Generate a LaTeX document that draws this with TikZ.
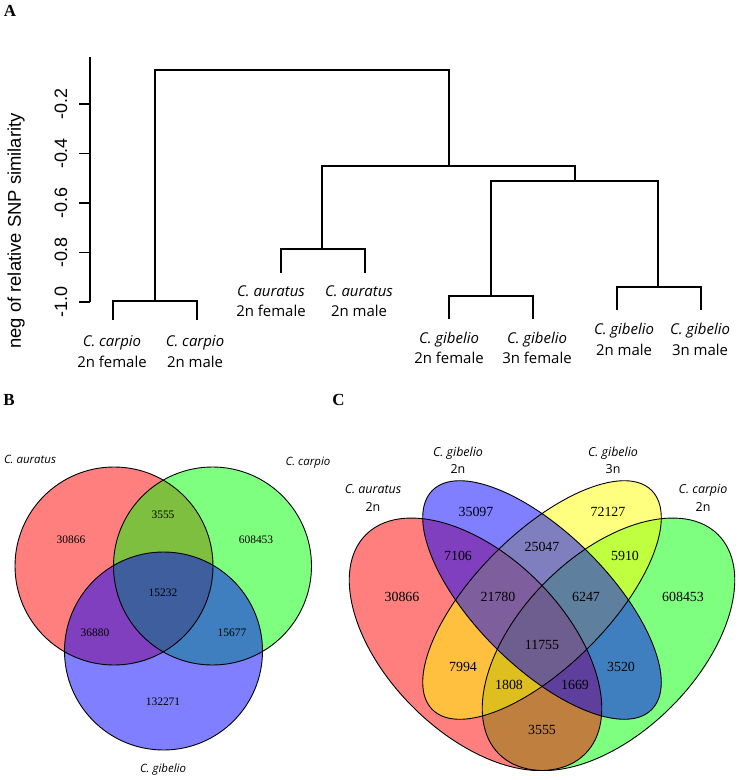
\documentclass[tikz,border=0pt]{standalone}
\usepackage{fontspec}
\setmainfont{Liberation Serif}
\newfontfamily\osans{Open Sans}
\newfontfamily\arial{Liberation Sans}
\definecolor{vred}{RGB}{255,0,0}
\definecolor{vgreen}{RGB}{0,255,0}
\definecolor{vblue}{RGB}{0,0,255}
\definecolor{vyellow}{RGB}{255,255,0}
\begin{document}
\begin{tikzpicture}[x=1bp,y=-1bp,
 dend/.style={line width=1.2bp, black},
 leaf/.style={font=\osans\fontsize{15}{20.5}\selectfont, align=center, inner sep=0},
 ticklab/.style={font=\arial\fontsize{18}{20}\selectfont, rotate=90, inner sep=0},
 axtitle/.style={font=\arial\fontsize{18.5}{20}\selectfont, rotate=90, inner sep=0},
 panel/.style={font=\bfseries\fontsize{17}{18}\selectfont, inner sep=0},
 bnum/.style={font=\fontsize{11.5}{12}\selectfont, inner sep=0},
 cnum/.style={font=\fontsize{14}{15}\selectfont, inner sep=0},
 blab/.style={font=\osans\itshape\fontsize{11.5}{13}\selectfont, inner sep=0},
 clab/.style={font=\osans\fontsize{12.5}{17.5}\selectfont, align=center, inner sep=0},
 vfill/.style={fill=#1, fill opacity=0.5},
 vline/.style={draw=black, line width=0.9bp}
]
\useasboundingbox (0,0) rectangle (744,780);

% ---------------- Panel A ----------------
\node[panel] (pA) at (10,11) {A};

% axis
\coordinate (atop) at (90,57);
\coordinate (abot) at (90,302);
\draw[dend] (atop) -- (abot);
\foreach \v/\yy/\k in {-1.0/302/1,-0.8/252.5/2,-0.6/203/3,-0.4/153.5/4,-0.2/104/5}{
  \coordinate (t\k) at (90,\yy);
  \coordinate (tl\k) at (79,\yy);
  \draw[dend] (t\k) -- (tl\k);
  \node[ticklab] (lab\k) at (61,\yy) {\v};
}
\node[axtitle] (ytitle) at (16,231) {neg of relative SNP similarity};

% dendrogram
\coordinate (l1) at (113,320);
\coordinate (l2) at (197,320);
\coordinate (l3) at (281,273);
\coordinate (l4) at (365,273);
\coordinate (l5) at (449,319);
\coordinate (l6) at (533,319);
\coordinate (l7) at (617,310);
\coordinate (l8) at (701,310);
\coordinate (j12) at (155,301);
\coordinate (j34) at (322,249);
\coordinate (j56) at (491,296);
\coordinate (j78) at (658,287);
\coordinate (j58) at (575,181);
\coordinate (j38) at (449,166);
\coordinate (root) at (302,70);
\draw[dend] (l1) |- (j12) -| (l2);
\draw[dend] (l3) |- (j34) -| (l4);
\draw[dend] (l5) |- (j56) -| (l6);
\draw[dend] (l7) |- (j78) -| (l8);
\draw[dend] (j56) |- (j58) -| (j78);
\draw[dend] (j34) |- (j38) -| (j58);
\draw[dend] (j12) |- (root) -| (j38);

\node[leaf] (n1) at (112,351.5) {\itshape C. carpio\\2n female};
\node[leaf] (n2) at (195,351.5) {\itshape C. carpio\\2n male};
\node[leaf] (n3) at (271,301) {\itshape C. auratus\\2n female};
\node[leaf] (n4) at (359,301) {\itshape C. auratus\\2n male};
\node[leaf] (n5) at (449,348) {\itshape C. gibelio\\2n female};
\node[leaf] (n6) at (537,348) {\itshape C. gibelio\\3n female};
\node[leaf] (n7) at (624,339.5) {\itshape C. gibelio\\2n male};
\node[leaf] (n8) at (700,339.5) {\itshape C. gibelio\\3n male};

% ---------------- Panel B ----------------
\node[panel] (pB) at (9,400) {B};
\fill[vfill=vred] (114,566) circle [radius=99];
\fill[vfill=vgreen] (212.5,566) circle [radius=99];
\fill[vfill=vblue] (163.5,651) circle [radius=99];
\draw[vline] (114,566) circle [radius=99];
\draw[vline] (212.5,566) circle [radius=99];
\draw[vline] (163.5,651) circle [radius=99];
\node[blab] (bl1) at (30,459) {C. auratus};
\node[blab] (bl2) at (308,463) {C. carpio};
\node[blab] (bl3) at (163,770) {C. gibelio};
\node[bnum] (b1) at (71,540) {30866};
\node[bnum] (b2) at (163,515) {3555};
\node[bnum] (b3) at (256,540) {608453};
\node[bnum] (b4) at (163,593) {15232};
\node[bnum] (b5) at (95,633) {36880};
\node[bnum] (b6) at (232,633) {15677};
\node[bnum] (b7) at (163,702) {132271};

% ---------------- Panel C ----------------
\node[panel] (pC) at (338.5,400) {C};
\fill[vfill=vgreen, rotate around={45:(608.5,644.3)}] (608.5,644.3) ellipse [x radius=155, y radius=88.6];
\fill[vfill=vred, rotate around={-45:(475.5,644.3)}] (475.5,644.3) ellipse [x radius=155, y radius=88.6];
\fill[vfill=vyellow, rotate around={45:(542,600)}] (542,600) ellipse [x radius=155, y radius=66.5];
\fill[vfill=vblue, rotate around={-45:(542,600)}] (542,600) ellipse [x radius=155, y radius=66.5];
\draw[vline, rotate around={45:(608.5,644.3)}] (608.5,644.3) ellipse [x radius=155, y radius=88.6];
\draw[vline, rotate around={-45:(475.5,644.3)}] (475.5,644.3) ellipse [x radius=155, y radius=88.6];
\draw[vline, rotate around={45:(542,600)}] (542,600) ellipse [x radius=155, y radius=66.5];
\draw[vline, rotate around={-45:(542,600)}] (542,600) ellipse [x radius=155, y radius=66.5];

\node[clab] (cl1) at (373,498) {\itshape C. auratus\\2n};
\node[clab] (cl2) at (458,460.5) {\itshape C. gibelio\\2n};
\node[clab] (cl3) at (613,460.5) {\itshape C. gibelio\\3n};
\node[clab] (cl4) at (703,498) {\itshape C. carpio\\2n};

\node[cnum] (c1) at (476,512) {35097};
\node[cnum] (c2) at (608,512) {72127};
\node[cnum] (c3) at (458,556) {7106};
\node[cnum] (c4) at (542,547) {25047};
\node[cnum] (c5) at (625,556) {5910};
\node[cnum] (c6) at (402,597) {30866};
\node[cnum] (c7) at (498,597) {21780};
\node[cnum] (c8) at (586,597) {6247};
\node[cnum] (c9) at (683,597) {608453};
\node[cnum] (c10) at (542,645) {11755};
\node[cnum] (c11) at (463,667) {7994};
\node[cnum] (c12) at (621,667) {3520};
\node[cnum] (c13) at (509,685) {1808};
\node[cnum] (c14) at (575,685) {1669};
\node[cnum] (c15) at (542,730) {3555};
\end{tikzpicture}
\end{document}
